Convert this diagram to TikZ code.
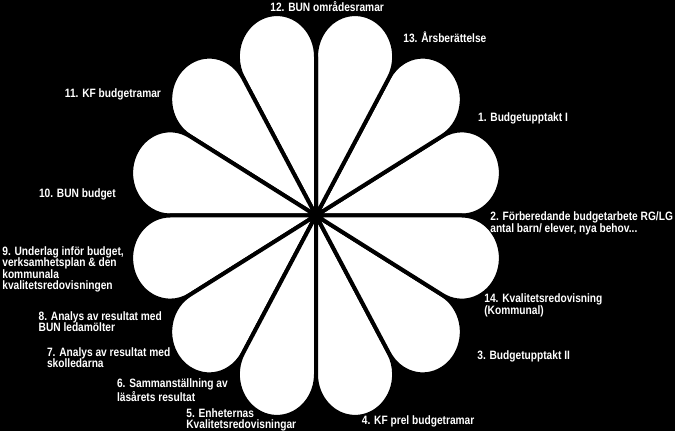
\documentclass[tikz,border=0pt]{standalone}
\usepackage{fontspec}
\setmainfont{Liberation Sans}[FakeStretch=0.84]
\usepackage{tikz}

\begin{document}
\begin{tikzpicture}[x=0.02cm, y=0.02cm,
  petal/.style={fill=white, draw=black, line width=0.08cm, line join=round},
  lab/.style={text=white, font=\fontsize{6.9pt}{6.5pt}\selectfont\bfseries, align=left, anchor=west, inner sep=0pt}]
  %% background
  \fill[black] (-316,-215.5) rectangle (359,215.5);
  %% petals
  \begin{scope}[x=3.02cm, y=3.29cm]
    \foreach \a in {15,45,...,345}
      \draw[petal] (0,0) -- ({\a-15}:0.9659) arc[start angle=\a-105, end angle=\a+105, radius=0.2588] -- cycle;
  \end{scope}
  %% labels
  \node[lab] (l12) at (-46,208.5) {12. BUN områdesramar};
  \node[lab] (l13) at (87,178.5) {13. Årsberättelse};
  \node[lab] (l11) at (-251.4,121.2) {11. KF budgetramar};
  \node[lab] (l1) at (161.8,97.2) {1. Budgetupptakt I};
  \node[lab] (l10) at (-277.3,21.5) {10. BUN budget};
  \node[lab] (l2) at (174,-7.7) {2. Förberedande budgetarbete RG/LG\\antal barn/ elever, nya behov...};
  \node[lab] (l9) at (-314,-54) {9. Underlag inför budget,\\verksamhetsplan \& den\\kommunala\\kvalitetsredovisningen};
  \node[lab] (l14) at (168,-89.8) {14. Kvalitetsredovisning\\(Kommunal)};
  \node[lab] (l8) at (-277.7,-106.3) {8. Analys av resultat med\\BUN ledamölter};
  \node[lab] (l3) at (161,-140.5) {3. Budgetupptakt II};
  \node[lab] (l7) at (-269.3,-142.2) {7. Analys av resultat med\\skolledarna};
  \node[lab] (l6) at (-199.3,-174.8) {6. Sammanställning av\\läsårets resultat};
  \node[lab] (l5) at (-130,-204.5) {5. Enheternas\\Kvalitetsredovisningar};
  \node[lab] (l4) at (45.6,-205.5) {4. KF prel budgetramar};
\end{tikzpicture}
\end{document}
